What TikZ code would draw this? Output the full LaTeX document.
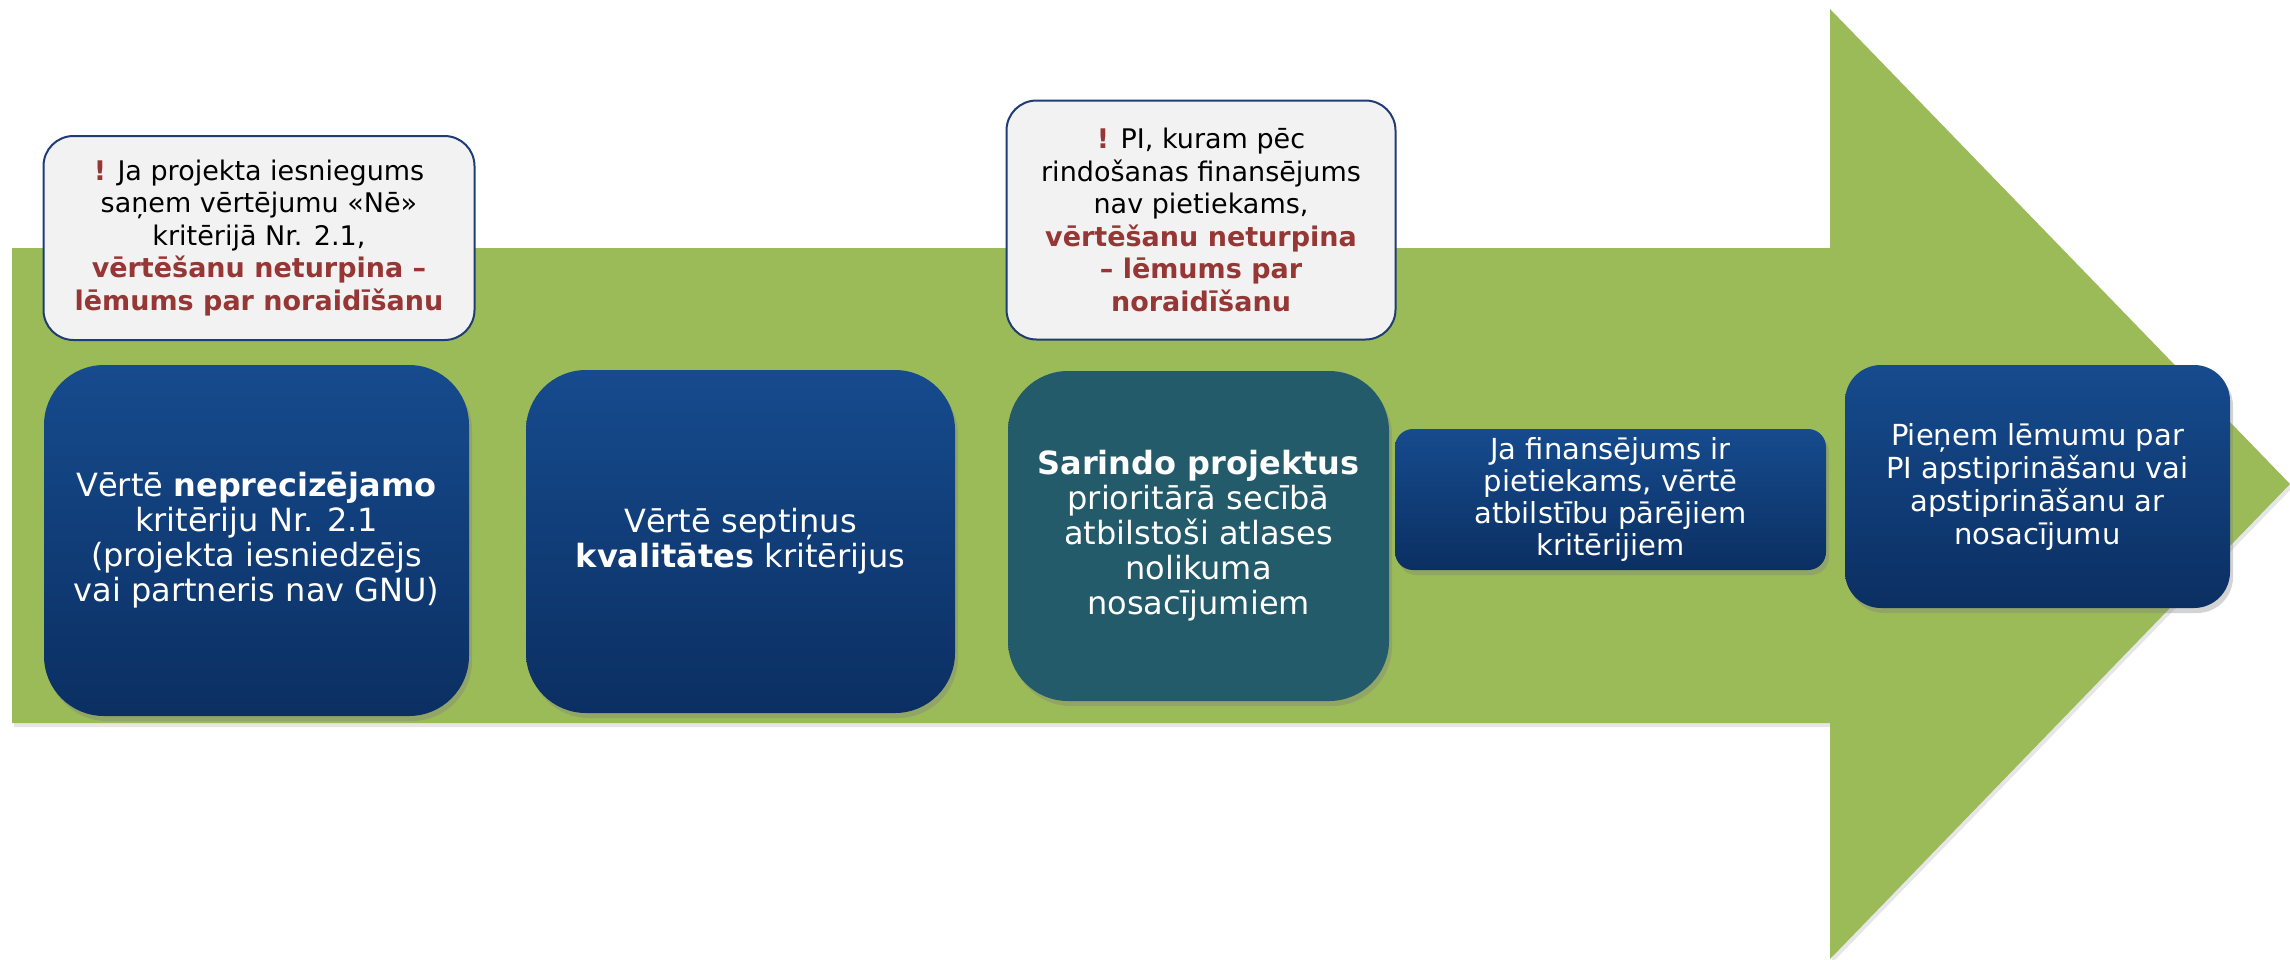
\documentclass[tikz,border=0pt]{standalone}
\usepackage{fontspec}
\setmainfont{DejaVu Sans}
\usetikzlibrary{shadows}

\definecolor{arrowgreen}{HTML}{9BBB59}
\definecolor{stepblue_top}{HTML}{164B8E}
\definecolor{stepblue_bottom}{HTML}{0B2F62}
\definecolor{stepteal}{HTML}{235B6A}
\definecolor{notegray}{HTML}{F2F2F2}
\definecolor{notenavy}{HTML}{1F3C74}
\definecolor{warnred}{HTML}{953735}

\begin{document}
\begin{tikzpicture}[x=1pt, y=-1pt]
    \tikzstyle{note_style} = [draw=notenavy, line width=2pt, fill=notegray, rounded corners=30pt, align=center, inner sep=0pt, font=\fontsize{27}{32.5}\selectfont]
    \tikzstyle{step_style} = [rounded corners=60pt, top color=stepblue_top, bottom color=stepblue_bottom, text=white, align=center, inner sep=0pt, font=\fontsize{32}{35}\selectfont, drop shadow={shadow xshift=3pt, shadow yshift=-5pt, opacity=0.35}]

    \useasboundingbox (0,0) rectangle (2290,959);

    % big arrow
    \fill[arrowgreen, drop shadow={shadow xshift=2pt, shadow yshift=-4pt, opacity=0.2}]
        (12,248) -- (1830,248) -- (1830,9) -- (2290,484) -- (1830,959) -- (1830,723) -- (12,723) -- cycle;

    \node[note_style, minimum width=431, minimum height=204] (n1) at (259,238)
        {\textcolor{warnred}{\textbf{!}} Ja projekta iesniegums\\ saņem vērtējumu «Nē»\\ kritērijā Nr. 2.1,\\
         \textcolor{warnred}{\textbf{vērtēšanu neturpina –}}\\ \textcolor{warnred}{\textbf{lēmums par noraidīšanu}}};
    \node[note_style, minimum width=389, minimum height=239] (n2) at (1201,220)
        {\textcolor{warnred}{\textbf{!}} PI, kuram pēc\\ rindošanas finansējums\\ nav pietiekams,\\
         \textcolor{warnred}{\textbf{vērtēšanu neturpina}}\\ \textcolor{warnred}{\textbf{– lēmums par}}\\ \textcolor{warnred}{\textbf{noraidīšanu}}};

    \node[step_style, minimum width=425, minimum height=351] (s1) at (256.5,540.5)
        {Vērtē \textbf{neprecizējamo}\\ kritēriju Nr. 2.1\\ (projekta iesniedzējs\\ vai partneris nav GNU)};
    \node[step_style, minimum width=429, minimum height=343] (s2) at (740.5,541.5)
        {Vērtē septiņus\\ \textbf{kvalitātes} kritērijus};
    \node[step_style, top color=stepteal, bottom color=stepteal, minimum width=381, minimum height=330] (s3) at (1198.5,536)
        {\textbf{Sarindo projektus}\\ prioritārā secībā\\ atbilstoši atlases\\ nolikuma\\ nosacījumiem};
    \node[step_style, rounded corners=18pt, minimum width=431, minimum height=141, font=\fontsize{29}{32}\selectfont] (s4) at (1610.5,499.5)
        {Ja finansējums ir\\ pietiekams, vērtē\\ atbilstību pārējiem\\ kritērijiem};
    \node[step_style, rounded corners=36pt, minimum width=385, minimum height=243, font=\fontsize{29}{33}\selectfont] (s5) at (2037.5,486.5)
        {Pieņem lēmumu par\\ PI apstiprināšanu vai\\ apstiprināšanu ar\\ nosacījumu};
\end{tikzpicture}
\end{document}
